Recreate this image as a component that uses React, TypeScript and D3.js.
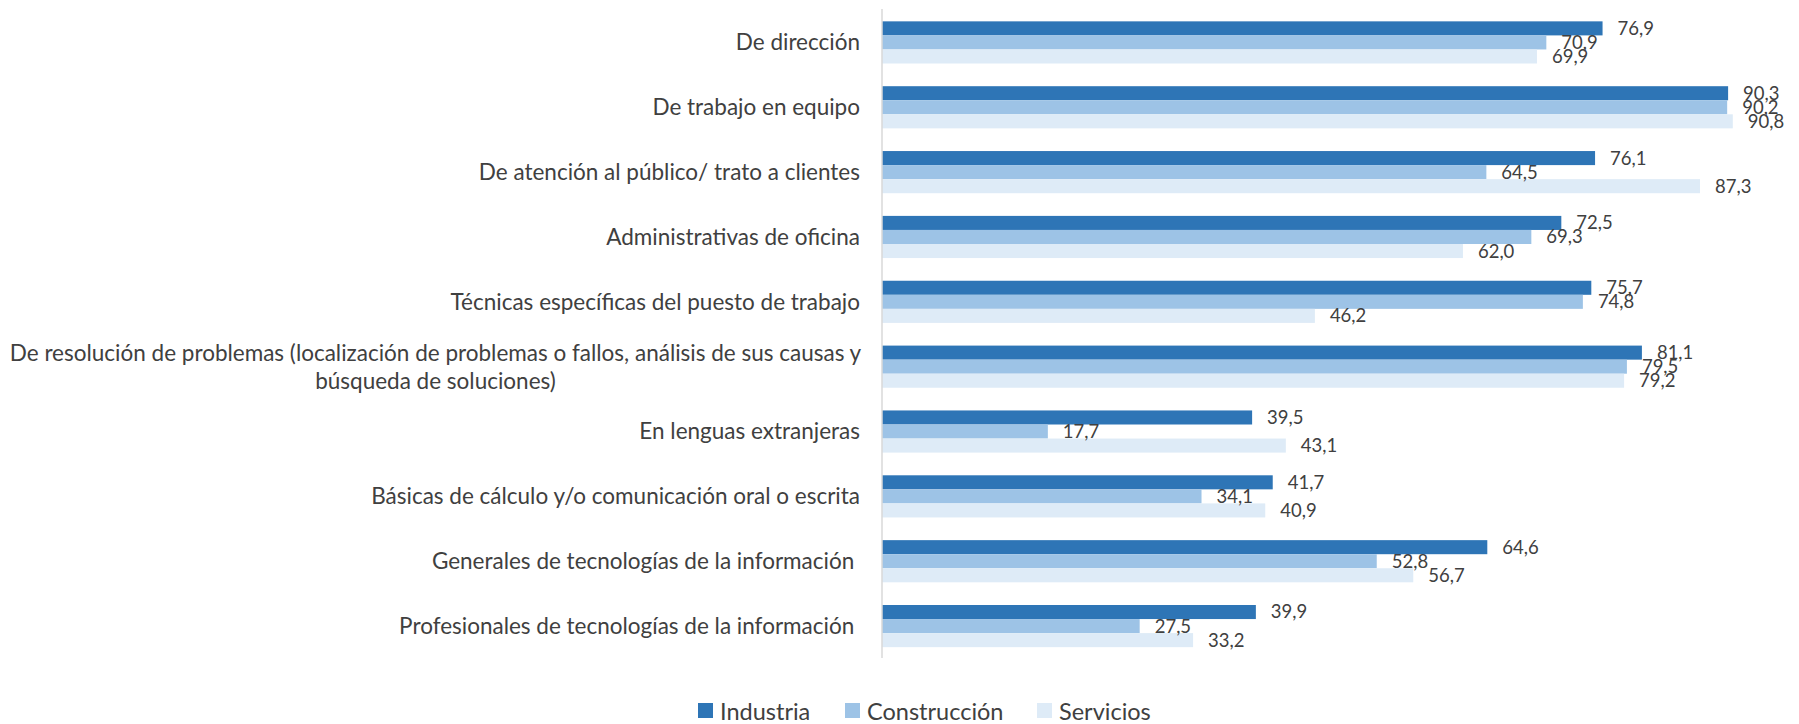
import React from "react";
import * as d3 from "d3";

const categories: string[][] = [
  ["De dirección"],
  ["De trabajo en equipo"],
  ["De atención al público/ trato a clientes"],
  ["Administrativas de oficina"],
  ["Técnicas específicas del puesto de trabajo"],
  ["De resolución de problemas (localización de problemas o fallos, análisis de sus causas y", "búsqueda de soluciones)"],
  ["En lenguas extranjeras"],
  ["Básicas de cálculo y/o comunicación oral o escrita"],
  ["Generales de tecnologías de la información "],
  ["Profesionales de tecnologías de la información "],
];

const industria = [76.9, 90.3, 76.1, 72.5, 75.7, 81.1, 39.5, 41.7, 64.6, 39.9];
const construccion = [70.9, 90.2, 64.5, 69.3, 74.8, 79.5, 17.7, 34.1, 52.8, 27.5];
const servicios = [69.9, 90.8, 87.3, 62.0, 46.2, 79.2, 43.1, 40.9, 56.7, 33.2];

const seriesNames = ["Industria", "Construcción", "Servicios"];
const seriesColors = ["#2E75B6", "#9DC3E6", "#DEEBF7"];
const seriesData = [industria, construccion, servicios];

const W = 1799;
const H = 724;
const FONT = "Lato, 'Open Sans', sans-serif";

export default function App() {
  const x = d3.scaleLinear().domain([0, 100]).range([882, 882 + 937]);
  const y = d3
    .scaleBand<number>()
    .domain(d3.range(categories.length))
    .range([10, 658.5])
    .paddingInner(0.35)
    .paddingOuter(0.175);
  const inner = d3
    .scaleBand<number>()
    .domain([0, 1, 2])
    .range([0, y.bandwidth()]);

  const fmt = (v: number) => v.toFixed(1).replace(".", ",");

  const legendX = [698, 845, 1037];

  return (
    <svg
      width={W}
      height={H}
      style={{ position: "absolute", left: 0, top: 0, background: "#fff" }}
      fontFamily={FONT}
    >
      {categories.map((lines, i) => {
        const cy = (y(i) as number) + y.bandwidth() / 2;
        const lh = 28;
        const y0 = cy - ((lines.length - 1) * lh) / 2;
        const multi = lines.length > 1;
        return (
          <text
            key={"c" + i}
            textAnchor={multi ? "middle" : "end"}
            fontSize={22.5}
            fill="#404040"
            style={{ whiteSpace: "pre" }}
          >
            {lines.map((l, j) => (
              <tspan key={j} x={multi ? 435.5 : 860} y={y0 + j * lh} dy="0.35em">
                {l}
              </tspan>
            ))}
          </text>
        );
      })}
      {seriesData.map((vals, s) =>
        vals.map((v, i) => {
          const by = (y(i) as number) + (inner(s) as number);
          return (
            <rect
              key={`b${s}-${i}`}
              x={x(0)}
              y={by}
              width={x(v) - x(0)}
              height={inner.bandwidth()}
              fill={seriesColors[s]}
            />
          );
        })
      )}
      <line x1={x(0)} x2={x(0)} y1={9} y2={658} stroke="#D9D9D9" strokeWidth={1.5} />
      {seriesData.map((vals, s) =>
        vals.map((v, i) => {
          const by = (y(i) as number) + (inner(s) as number);
          return (
            <text
              key={`t${s}-${i}`}
              x={x(v) + 15}
              y={by + inner.bandwidth() / 2}
              dy="0.35em"
              fontSize={18.5}
              fill="#404040"
            >
              {fmt(v)}
            </text>
          );
        })
      )}
      {seriesNames.map((n, s) => (
        <g key={"l" + s}>
          <rect x={legendX[s]} y={703} width={15} height={15} fill={seriesColors[s]} />
          <text x={legendX[s] + 22} y={712} dy="0.35em" fontSize={23.5} fill="#404040">
            {n}
          </text>
        </g>
      ))}
    </svg>
  );
}
